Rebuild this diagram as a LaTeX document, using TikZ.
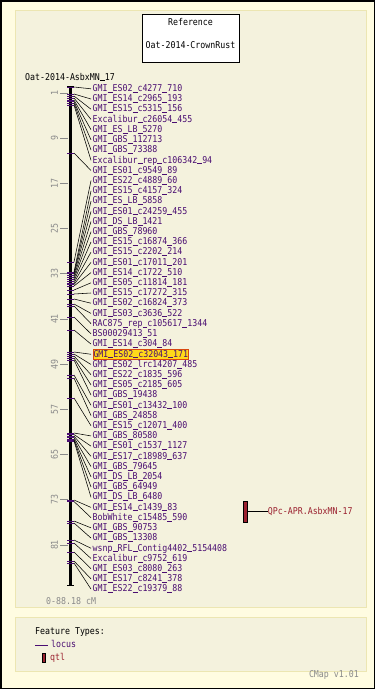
\documentclass[tikz,border=0pt]{standalone}
\usepackage{fontspec}
\setmonofont[FakeStretch=0.88]{DejaVu Sans Mono}
\usetikzlibrary{positioning}
\definecolor{pagebg}{HTML}{FFFCE1}
\definecolor{panelbg}{HTML}{F4F2DD}
\definecolor{panelrule}{HTML}{ECE6B2}
\definecolor{locusc}{HTML}{4A0E72}
\definecolor{qtlc}{HTML}{9B2230}
\definecolor{scalec}{HTML}{8A8A8A}
\definecolor{hlfill}{HTML}{FFD91A}
\definecolor{hlrule}{HTML}{D9480F}
\newcommand{\usbar}{\rlap{\rule[-1.2pt]{0.53em}{0.9pt}}\phantom{0}}
\tikzset{
  txt/.style={font=\ttfamily\fontsize{9.4}{11}\selectfont\let\_\usbar,inner sep=0pt,text height=7pt,text depth=1.5pt},
  locus/.style={txt,text=locusc,anchor=west},
  hilite/.style={fill=hlfill,draw=hlrule,line width=0.8pt,inner xsep=0.6pt,inner ysep=0.6pt},
  lead/.style={black,line width=0.55pt},
  mtick/.style={locusc,line width=0.9pt},
  scaletick/.style={scalec,line width=0.8pt},
  panel/.style={fill=panelbg,draw=panelrule,line width=1pt},
  refbox/.style={draw=black,fill=white,line width=0.8pt,minimum width=97pt,minimum height=48pt},
  qtlbar/.style={fill=qtlc,draw=black,line width=0.5pt,minimum width=3.5pt,minimum height=21pt,inner sep=0pt}
}

\begin{document}
\begin{tikzpicture}[x=1pt,y=-1pt]
\useasboundingbox (0,0) rectangle (375,689);
\fill[pagebg] (0,0) rectangle (375,689);
\draw[black,line width=1.5pt] (0.75,0.75) rectangle (374.25,688.25);
\draw[panel] (15,10) rectangle (366,607);
\draw[panel] (15,617) rectangle (366,671);

\node[refbox] (ref) at (190.5,38) {};
\node[txt] (refname) at (190.5,22.3) {Reference};
\node[txt] (refmap) at (190.5,45.7) {Oat-2014-CrownRust};
\node[txt,anchor=west] (mapname) at (25,77.3) {Oat-2014-AsbxMN\_17};

\foreach \v in {1,9,...,81}{
  \pgfmathsetmacro{\sy}{87.35+5.65*\v}
  \draw[scaletick] (60,\sy) -- (68,\sy);
  \node[txt,text=scalec,rotate=90] (s\v) at (55,\sy) {\v};
}
\coordinate (top) at (70.5,86);
\coordinate (bot) at (70.5,585);
\draw[black,line width=2.5pt] (top) -- (bot);
\draw[black,line width=1pt] ([xshift=-3.5pt]top) -- ([xshift=3.5pt]top)
  ([xshift=-3.5pt]bot) -- ([xshift=3.5pt]bot);

\foreach \my/\txt [count=\i] in {
  87/GMI\_ES02\_c4277\_710, 94/GMI\_ES14\_c2965\_193, 96/GMI\_ES15\_c5315\_156,
  98/Excalibur\_c26054\_455, 100/GMI\_ES\_LB\_5270, 101.5/GMI\_GBS\_112713,
  103/GMI\_GBS\_73388, 105/Excalibur\_rep\_c106342\_94, 153/GMI\_ES01\_c9549\_89,
  262/GMI\_ES22\_c4889\_60, 272/GMI\_ES15\_c4157\_324, 273.5/GMI\_ES\_LB\_5858,
  275/GMI\_ES01\_c24259\_455, 277/GMI\_DS\_LB\_1421, 279/GMI\_GBS\_78960,
  281/GMI\_ES15\_c16874\_366, 283/GMI\_ES15\_c2202\_214, 284.5/GMI\_ES01\_c17011\_201,
  286/GMI\_ES14\_c1722\_510, 290/GMI\_ES05\_c11814\_181, 294/GMI\_ES15\_c17272\_315,
  299/GMI\_ES02\_c16824\_373, 304/GMI\_ES03\_c3636\_522, 306/RAC875\_rep\_c105617\_1344,
  317/BS00029413\_51, 330/GMI\_ES14\_c304\_84, 352/GMI\_ES02\_c32043\_171,
  354/GMI\_ES02\_lrc14207\_485, 356/GMI\_ES22\_c1835\_596, 358/GMI\_ES05\_c2185\_605,
  360/GMI\_GBS\_19438, 375/GMI\_ES01\_c13432\_100, 378/GMI\_GBS\_24858,
  398/GMI\_ES15\_c12071\_400, 433/GMI\_GBS\_80580, 434.5/GMI\_ES01\_c1537\_1127,
  436/GMI\_ES17\_c18989\_637, 437.5/GMI\_GBS\_79645, 439/GMI\_DS\_LB\_2054,
  440/GMI\_GBS\_64949, 441/GMI\_DS\_LB\_6480, 500/GMI\_ES14\_c1439\_83,
  501.5/BobWhite\_c15485\_590, 521/GMI\_GBS\_90753, 523/GMI\_GBS\_13308,
  540/wsnp\_RFL\_Contig4402\_5154408, 543/Excalibur\_c9752\_619, 552/GMI\_ES03\_c8080\_263,
  561/GMI\_ES17\_c8241\_378, 563/GMI\_ES22\_c19379\_88}{
  \pgfmathsetmacro{\ly}{88.8+(\i-1)*10.21}
  \coordinate (p\i) at (74,\my);
  \draw[mtick] ([xshift=-7pt]p\i) -- (p\i);
  \ifnum\i=27
    \node[locus,hilite] (m\i) at (92.5,\ly) {\txt};
  \else
    \node[locus] (m\i) at (92.5,\ly) {\txt};
  \fi
  \draw[lead] (p\i) -- ([xshift=-1.5pt]m\i.west);
}
\node[txt,text=scalec,anchor=west] (range) at (46,601.5) {0-88.18 cM};

\node[qtlbar] (qtl) at (245.25,511.5) {};
\node[txt,text=qtlc,right=20.5pt of qtl] (qtlname) {QPc-APR.AsbxMN-17};
\draw[black,line width=0.8pt] (qtl.east) -- (qtlname.west);

\node[txt,anchor=west] (ftypes) at (35,631.5) {Feature Types:};
\coordinate (lgline) at (35,645);
\draw[locusc,line width=1pt] (lgline) -- ++(13,0) coordinate (lgend);
\node[locus,right=3pt of lgend] (lglocus) {locus};
\node[qtlbar,minimum height=9pt,minimum width=3.5pt] (lgbar) at (43.5,657.5) {};
\node[txt,text=qtlc,right=4.5pt of lgbar] (lgqtl) {qtl};
\node[txt,text=scalec,anchor=east] (version) at (359,674.5) {CMap v1.01};
\end{tikzpicture}
\end{document}
